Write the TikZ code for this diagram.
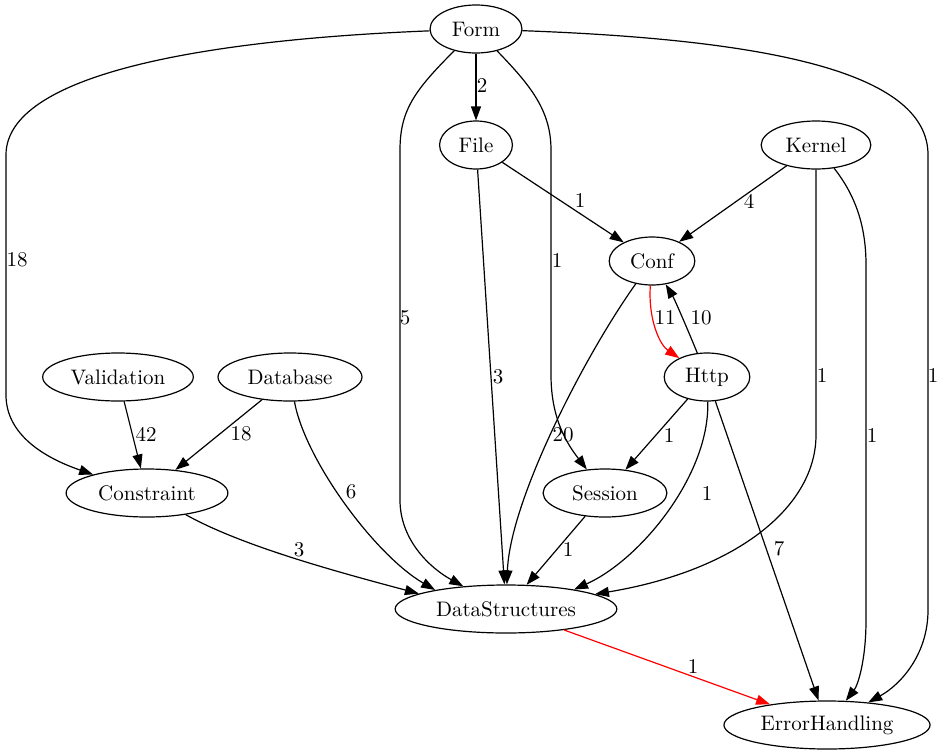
\documentclass[tikz,border=0pt]{standalone}
\usepackage{tikz}
\usetikzlibrary{shapes.geometric,arrows.meta}
\tikzstyle{pkg}=      [draw, ellipse, line width=0.6pt, minimum height=24pt, inner xsep=4.2pt, inner ysep=2pt, font=\fontsize{10.5}{12.6}\selectfont]
\tikzstyle{dep}=      [draw, line width=0.6pt, -{Triangle[length=7pt,width=5pt]}]
\tikzstyle{hot}=      [dep, color=red]
\tikzstyle{lbl}=      [inner sep=1pt, font=\fontsize{10.5}{12.6}\selectfont]

\begin{document}
\begin{tikzpicture}[x=0.5pt,y=-0.5pt]
 \useasboundingbox (0,0) rectangle (947,755);

 % packages, one row per rank
 \node[pkg] (Form) at (476,29) {Form};
 \node[pkg] (File) at (476,145) {File};
 \node[pkg] (Kernel) at (816,145) {Kernel};
 \node[pkg] (Conf) at (652,261) {Conf};
 \node[pkg, inner xsep=3pt] (Validation) at (118,377) {Validation};
 \node[pkg] (Database) at (290,377) {Database};
 \node[pkg] (Http) at (707,377) {Http};
 \node[pkg] (Constraint) at (147,493) {Constraint};
 \node[pkg, inner xsep=5.5pt] (Session) at (605,493) {Session};
 \node[pkg] (DataStructures) at (506,609) {DataStructures};
 \node[pkg, inner xsep=3.2pt] (ErrorHandling) at (827,725) {ErrorHandling};

 % dependencies
 \draw[dep] (Form) -- (File);
 \draw[dep] (Form) .. controls (200,40) and (6,75) .. (6,155) -- (6,395) .. controls (6,435) and (45,458) .. (Constraint);
 \draw[dep] (Form) .. controls (415,90) and (400,110) .. (400,150) -- (400,500) .. controls (400,540) and (430,568) .. (DataStructures.152);
 \draw[dep] (Form) .. controls (530,85) and (551,110) .. (551,150) -- (551,375) .. controls (551,420) and (568,445) .. (Session);
 \draw[dep] (Form) .. controls (780,40) and (928,75) .. (928,155) -- (928,610) .. controls (928,655) and (900,685) .. (ErrorHandling);
 \draw[dep] (File) -- (Conf);
 \draw[dep] (File) -- (DataStructures);
 \draw[dep] (Kernel) -- (Conf);
 \draw[dep] (Kernel) -- (816,435) .. controls (816,505) and (740,570) .. (DataStructures);
 \draw[dep] (Kernel) .. controls (855,195) and (866,225) .. (866,265) -- (866,620) .. controls (866,660) and (858,685) .. (ErrorHandling);
 \draw[hot] (Conf) .. controls (648,320) and (660,345) .. (Http);
 \draw[dep] (Http) .. controls (690,335) and (675,300) .. (Conf);
 \draw[dep] (Conf) .. controls (585,355) and (510,500) .. (DataStructures);
 \draw[dep] (Http) -- (Session);
 \draw[dep] (Http) .. controls (710,475) and (640,560) .. (DataStructures.16);
 \draw[dep] (Http) -- (ErrorHandling);
 \draw[dep] (Validation) -- (Constraint);
 \draw[dep] (Database) -- (Constraint);
 \draw[dep] (Database) .. controls (305,460) and (375,555) .. (DataStructures.165);
 \draw[dep] (Constraint) .. controls (240,545) and (330,570) .. (DataStructures.170);
 \draw[dep] (Session) -- (DataStructures);
 \draw[hot] (DataStructures) -- (ErrorHandling);

 % edge weights
 \node[lbl] (wFormFile) at (482,86) {2};
 \node[lbl] (wFormCons) at (17,260) {18};
 \node[lbl] (wFormData) at (405,318) {5};
 \node[lbl] (wFormSess) at (557,261) {1};
 \node[lbl] (wFormErr) at (933,376) {1};
 \node[lbl] (wFileConf) at (580,201) {1};
 \node[lbl] (wFileData) at (498,377) {3};
 \node[lbl] (wKernConf) at (749,201) {4};
 \node[lbl] (wKernData) at (822,376) {1};
 \node[lbl] (wKernErr) at (872,435) {1};
 \node[lbl] (wConfHttp) at (665,318) {11};
 \node[lbl] (wHttpConf) at (701,318) {10};
 \node[lbl] (wConfData) at (563,435) {20};
 \node[lbl] (wHttpSess) at (669,435) {1};
 \node[lbl] (wHttpData) at (707,493) {1};
 \node[lbl] (wHttpErr) at (779,549) {7};
 \node[lbl] (wValiCons) at (146,434) {42};
 \node[lbl] (wDataCons) at (241,434) {18};
 \node[lbl] (wDbData) at (351,492) {6};
 \node[lbl] (wConsData) at (299,550) {3};
 \node[lbl] (wSessData) at (568,549) {1};
 \node[lbl] (wDataErr) at (693,666) {1};
\end{tikzpicture}
\end{document}
